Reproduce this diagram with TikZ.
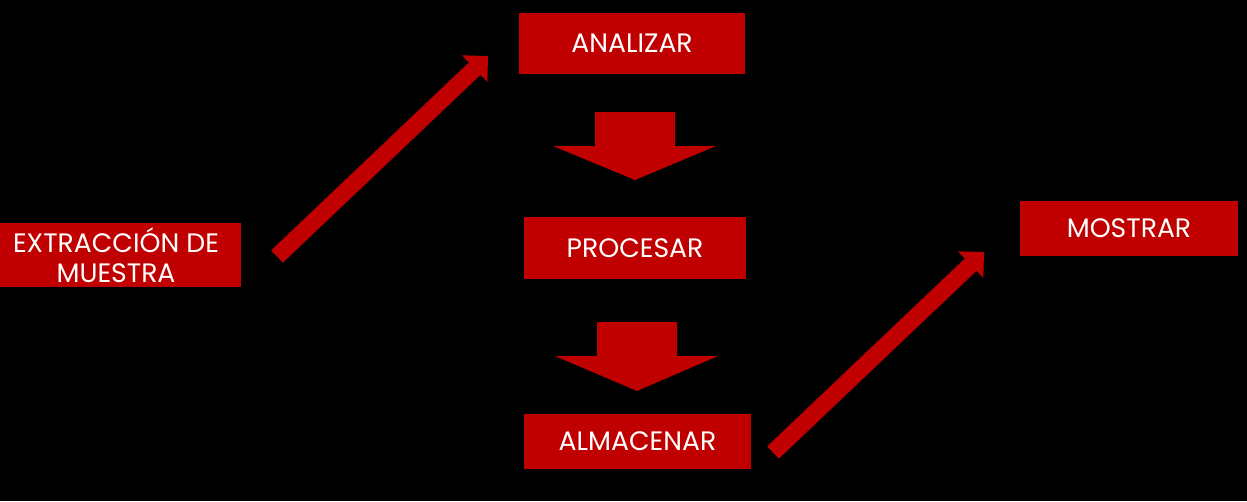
\documentclass[tikz,border=0pt]{standalone}
\usepackage{fontspec}
\setmainfont{Poppins}
\usetikzlibrary{arrows.meta}
\definecolor{rojo}{HTML}{C00000}
\begin{document}
\begin{tikzpicture}[x=0.75pt,y=-0.75pt]
        \tikzstyle{caja}=[fill=rojo,text=white,inner sep=0pt,align=center,font=\fontsize{20}{22.5}\selectfont]
        \tikzstyle{diag}=[draw=rojo,line width=12.75pt,-{Triangle[width=27.6pt,length=13.8pt,line width=0pt]}]
        \tikzstyle{baja}=[fill=rojo]

        \useasboundingbox[fill=black] (0,0) rectangle (1247,501);

        \node (extraccion)[caja,minimum width=187.5pt,minimum height=48pt] at (116,255) {EXTRACCIÓN DE\\MUESTRA};
        \node (analizar)[caja,minimum width=169.5pt,minimum height=45.75pt] at (632,43.5) {ANALIZAR};
        \node (procesar)[caja,minimum width=166.5pt,minimum height=46.5pt] at (635,248) {PROCESAR};
        \node (almacenar)[caja,minimum width=170.25pt,minimum height=41.25pt] at (637.5,441.5) {ALMACENAR};
        \node (mostrar)[caja,minimum width=163.5pt,minimum height=41.25pt] at (1129,228.5) {MOSTRAR};

        \coordinate (e1) at (277,256.5);
        \coordinate (a1) at (488,56);
        \coordinate (m1) at (773,452.5);
        \coordinate (s1) at (984,252);

        \draw[diag] (e1) -- (a1);
        \draw[diag] (m1) -- (s1);

        \fill[baja] (595,112) -- (675,112) -- (675,146) -- (716,146) -- (635,180) -- (553,146) -- (595,146) -- cycle;
        \fill[baja] (597,322) -- (677,322) -- (677,356) -- (718,356) -- (637,391) -- (555,356) -- (597,356) -- cycle;
    \end{tikzpicture}
\end{document}
